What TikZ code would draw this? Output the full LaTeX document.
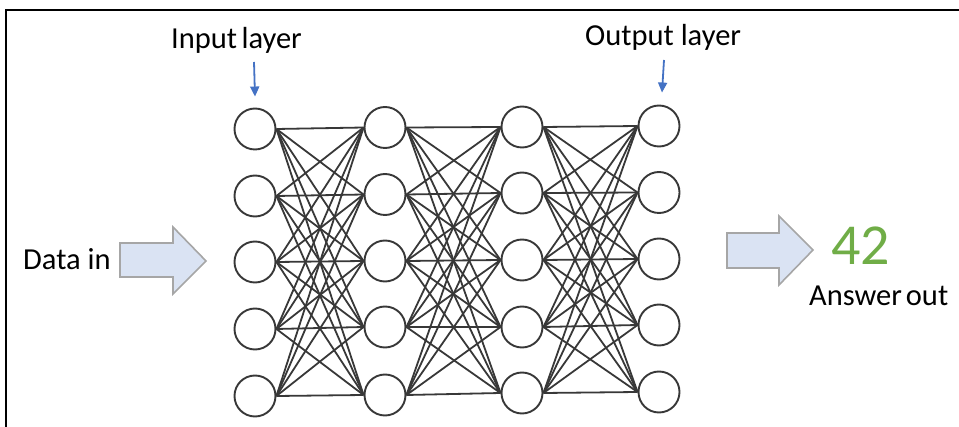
\documentclass[tikz,border=0pt]{standalone}
\usepackage{fontspec}
\setmainfont{Carlito}
\usetikzlibrary{arrows.meta}
\definecolor{netgray}{HTML}{383838}
\definecolor{tagblue}{HTML}{4472C4}
\definecolor{blockfill}{HTML}{DAE3F3}
\definecolor{blockedge}{HTML}{A6A6A6}
\definecolor{answergreen}{HTML}{70AD47}
\tikzset{
  neuron/.style={circle, draw=netgray, line width=1.9pt, minimum size=41pt, inner sep=0pt},
  link/.style={draw=netgray, line width=1.8pt},
  tagarrow/.style={draw=tagblue, line width=1.8pt, -{Triangle[length=10pt,width=9pt]}},
  blockarrow/.style={fill=blockfill, draw=blockedge, line width=1.6pt, line join=miter},
  frameline/.style={draw=black, line width=1.5pt},
  caption/.style={anchor=base west, inner sep=0pt, font=\fontsize{30.5}{36}\selectfont},
}
\begin{document}
\begin{tikzpicture}[x=1pt, y=-1pt]
  \useasboundingbox (0,0) rectangle (959,427);
  % frame
  \draw[frameline] (6,427) -- (6,10) -- (959,10);

  % neurons: four layers of five
  \foreach \r/\y in {1/129,2/196,3/262,4/329,5/396}
    \node[neuron] (a\r) at (255,\y) {};
  \foreach \r/\y in {1/127.5,2/194.5,3/261,4/327,5/395}
    \node[neuron] (b\r) at (385,\y) {};
  \foreach \r/\y in {1/127,2/193,3/260,4/327,5/393}
    \node[neuron] (c\r) at (522,\y) {};
  \foreach \r/\y in {1/126,2/192.5,3/259,4/325,5/392}
    \node[neuron] (d\r) at (659,\y) {};

  % full connections between consecutive layers
  \foreach \i in {1,...,5}
    \foreach \j in {1,...,5} {
      \draw[link] (a\i.east) -- (b\j.west);
      \draw[link] (b\i.east) -- (c\j.west);
      \draw[link] (c\i.east) -- (d\j.west);
    }

  % layer captions and pointers
  \node[caption] (inlabel) at (171,49) {Input\kern-2.5pt\ layer};
  \node[caption] (outlabel) at (585,46) {Output layer};
  \coordinate (inptr) at (254,62);
  \coordinate (outptr) at (664,60);
  \draw[tagarrow] (inptr) -- ([yshift=11pt]a1.north);
  \draw[tagarrow] (outptr) -- ([xshift=3pt,yshift=12pt]d1.north);

  % data in
  \node[caption] (datain) at (23,270) {Data in};
  \draw[blockarrow] (120,243) -- (173,243) -- (173,227) -- (206,261)
    -- (173,294) -- (173,277) -- (120,277) -- cycle;

  % answer out
  \draw[blockarrow] (727,233) -- (779,233) -- (779,216) -- (813,250)
    -- (779,285) -- (779,268) -- (727,268) -- cycle;
  \node[caption, text=answergreen, font=\fontsize{58}{64}\selectfont] (answer) at (831,265) {42};
  \node[caption] (answerout) at (809,306) {Answer\kern-3pt\ out};
\end{tikzpicture}
\end{document}
